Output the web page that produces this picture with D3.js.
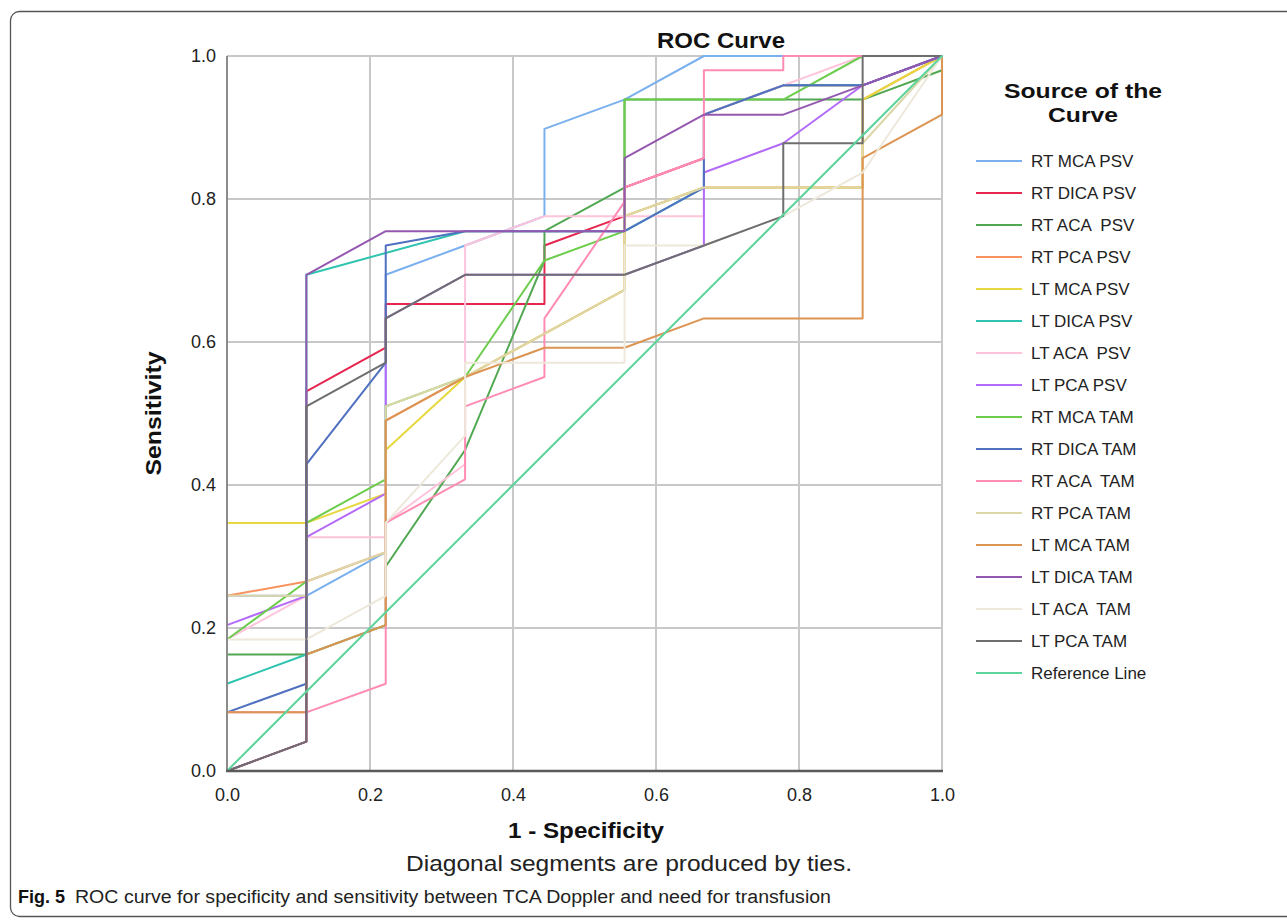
<!DOCTYPE html>
<html>
<head>
<meta charset="utf-8">
<script src="https://cdn.jsdelivr.net/npm/d3@7"></script>
<style>
  html, body { margin: 0; padding: 0; background: #ffffff; }
  svg { display: block; }
  text { font-family: "Liberation Sans", Arial, sans-serif; }
</style>
</head>
<body>
<svg id="chart" width="1287" height="923"></svg>
<script>
// ---------------- data ----------------
const seriesNames = [
  "RT MCA PSV", "RT DICA PSV", "RT ACA  PSV", "RT PCA PSV",
  "LT MCA PSV", "LT DICA PSV", "LT ACA  PSV", "LT PCA PSV",
  "RT MCA TAM", "RT DICA TAM", "RT ACA  TAM", "RT PCA TAM",
  "LT MCA TAM", "LT DICA TAM", "LT ACA  TAM", "LT PCA TAM",
  "Reference Line"
];

// each point: [1 - specificity, sensitivity]
const rtMcaPsv  = [[0,0],[0,0.245],[0.111,0.245],[0.222,0.306],[0.222,0.694],[0.333,0.735],[0.444,0.776],[0.444,0.898],[0.556,0.939],[0.667,1],[1,1]];
const rtDicaPsv = [[0,0],[0.111,0.041],[0.111,0.531],[0.222,0.592],[0.222,0.653],[0.444,0.653],[0.444,0.735],[0.556,0.776],[0.556,0.816],[0.667,0.857],[0.667,0.918],[0.778,0.959],[0.889,0.959],[1,1]];
const rtAcaPsv  = [[0,0],[0,0.163],[0.111,0.163],[0.222,0.204],[0.222,0.286],[0.333,0.449],[0.444,0.714],[0.444,0.755],[0.556,0.816],[0.556,0.939],[0.889,0.939],[1,0.980],[1,1]];
const rtPcaPsv  = [[0,0],[0,0.245],[0.111,0.265],[0.222,0.306],[0.222,0.490],[0.333,0.551],[0.556,0.673],[0.556,0.776],[0.667,0.816],[0.889,0.816],[0.889,0.939],[1,1]];
const ltMcaPsv  = [[0,0],[0,0.347],[0.111,0.347],[0.222,0.388],[0.222,0.449],[0.333,0.551],[0.556,0.673],[0.556,0.776],[0.667,0.816],[0.889,0.816],[0.889,0.939],[1,1]];
const ltDicaPsv = [[0,0],[0,0.122],[0.111,0.163],[0.111,0.694],[0.333,0.755],[0.556,0.755],[0.667,0.816],[0.667,0.918],[0.778,0.959],[0.889,0.959],[1,1]];
const ltAcaPsv  = [[0,0],[0,0.184],[0.111,0.245],[0.111,0.327],[0.222,0.327],[0.222,0.347],[0.333,0.429],[0.333,0.735],[0.444,0.776],[0.667,0.776],[0.667,0.918],[0.778,0.959],[0.889,1],[1,1]];
const ltPcaPsv  = [[0,0],[0,0.204],[0.111,0.245],[0.111,0.327],[0.222,0.388],[0.222,0.633],[0.333,0.694],[0.556,0.694],[0.667,0.735],[0.667,0.837],[0.778,0.878],[0.889,0.959],[1,1]];
const rtMcaTam  = [[0,0],[0,0.184],[0.111,0.265],[0.111,0.347],[0.222,0.408],[0.222,0.510],[0.333,0.551],[0.444,0.714],[0.556,0.755],[0.556,0.939],[0.778,0.939],[0.889,1],[1,1]];
const rtDicaTam = [[0,0],[0,0.082],[0.111,0.122],[0.111,0.429],[0.222,0.571],[0.222,0.735],[0.333,0.755],[0.556,0.755],[0.667,0.816],[0.667,0.918],[0.778,0.959],[0.889,0.959],[1,1]];
const rtAcaTam  = [[0,0],[0,0.082],[0.111,0.082],[0.222,0.122],[0.222,0.347],[0.333,0.408],[0.333,0.510],[0.444,0.551],[0.444,0.633],[0.556,0.796],[0.556,0.816],[0.667,0.857],[0.667,0.980],[0.778,0.980],[0.778,1],[1,1]];
const rtPcaTam  = [[0,0],[0,0.245],[0.111,0.245],[0.111,0.265],[0.222,0.306],[0.222,0.510],[0.333,0.551],[0.556,0.673],[0.556,0.776],[0.667,0.816],[0.889,0.816],[0.889,0.878],[1,1]];
const ltMcaTam  = [[0,0],[0,0.082],[0.111,0.082],[0.111,0.163],[0.222,0.204],[0.222,0.490],[0.333,0.551],[0.444,0.592],[0.556,0.592],[0.667,0.633],[0.889,0.633],[0.889,0.857],[1,0.918],[1,1]];
const ltDicaTam = [[0,0],[0.111,0.041],[0.111,0.694],[0.222,0.755],[0.556,0.755],[0.556,0.857],[0.667,0.918],[0.778,0.918],[0.889,0.959],[1,1]];
const ltAcaTam  = [[0,0],[0,0.184],[0.111,0.184],[0.222,0.245],[0.222,0.347],[0.333,0.469],[0.333,0.571],[0.556,0.571],[0.556,0.735],[0.667,0.735],[0.778,0.776],[0.889,0.837],[1,1]];
const ltPcaTam  = [[0,0],[0.111,0.041],[0.111,0.510],[0.222,0.571],[0.222,0.633],[0.333,0.694],[0.556,0.694],[0.667,0.735],[0.778,0.776],[0.778,0.878],[0.889,0.878],[0.889,1],[1,1]];
const referenceLine = [[0,0],[1,1]];

const seriesValues = [
  rtMcaPsv, rtDicaPsv, rtAcaPsv, rtPcaPsv,
  ltMcaPsv, ltDicaPsv, ltAcaPsv, ltPcaPsv,
  rtMcaTam, rtDicaTam, rtAcaTam, rtPcaTam,
  ltMcaTam, ltDicaTam, ltAcaTam, ltPcaTam,
  referenceLine
];

const tickValues = [0, 0.2, 0.4, 0.6, 0.8, 1.0];
const tickLabels = ["0.0", "0.2", "0.4", "0.6", "0.8", "1.0"];

// ---------------- styles ----------------
const palette = [
  "#7ab0ee", "#e6264e", "#52a852", "#f8925e",
  "#e6d83e", "#2ec4b0", "#ffc4dc", "#b46cf8",
  "#6ccc4c", "#5070c0", "#ff8cb4", "#dcd6a8",
  "#dc9452", "#9458b0", "#ede8da", "#6e6e6e",
  "#5cd49c"
];

const svg = d3.select("#chart");
const W = 1287, H = 923;

// outer rounded frame
svg.append("rect")
  .attr("x", 10.5).attr("y", 11.5)
  .attr("width", 1300).attr("height", 905)
  .attr("rx", 9).attr("ry", 9)
  .attr("fill", "none").attr("stroke", "#555").attr("stroke-width", 1.3);

const x = d3.scaleLinear().domain([0, 1]).range([227, 942]);
const y = d3.scaleLinear().domain([0, 1]).range([771, 56]);

// grid
const grid = svg.append("g");
grid.selectAll("line.v").data(tickValues.slice(1)).join("line")
  .attr("x1", d => x(d)).attr("x2", d => x(d))
  .attr("y1", y(0)).attr("y2", y(1))
  .attr("stroke", "#c8c8c8").attr("stroke-width", 2);
grid.selectAll("line.h").data(tickValues.slice(1)).join("line")
  .attr("x1", x(0)).attr("x2", x(1))
  .attr("y1", d => y(d)).attr("y2", d => y(d))
  .attr("stroke", "#c8c8c8").attr("stroke-width", 2);

// axes (labels through d3 axes)
const xAxis = d3.axisBottom(x).tickValues(tickValues)
  .tickFormat((d, i) => tickLabels[i]).tickSize(0).tickPadding(17);
const yAxis = d3.axisLeft(y).tickValues(tickValues)
  .tickFormat((d, i) => tickLabels[i]).tickSize(0).tickPadding(11);

const gx = svg.append("g").attr("transform", `translate(0,${y(0)})`).call(xAxis);
const gy = svg.append("g").attr("transform", `translate(${x(0)},0)`).call(yAxis);
gx.select(".domain").remove();
gy.select(".domain").remove();
[gx, gy].forEach(g => g.selectAll("text")
  .attr("font-family", "'Liberation Sans', Arial, sans-serif")
  .attr("font-size", 18).attr("fill", "#222"));

// curves
const line = d3.line().x(d => x(d[0])).y(d => y(d[1]));
const curves = svg.append("g").attr("fill", "none")
  .attr("stroke-linejoin", "round").attr("stroke-linecap", "round");
seriesValues.forEach((vals, i) => {
  curves.append("path")
    .datum(vals)
    .attr("d", line)
    .attr("stroke", palette[i])
    .attr("stroke-width", 2);
});

// axis lines on top
svg.append("line").attr("x1", x(0)).attr("x2", x(0)).attr("y1", y(0)).attr("y2", y(1))
  .attr("stroke", "#8c8c8c").attr("stroke-width", 2);
svg.append("line").attr("x1", x(0) - 1).attr("x2", x(1) + 1).attr("y1", y(0)).attr("y2", y(0))
  .attr("stroke", "#5a5a5a").attr("stroke-width", 2.5);

// titles
svg.append("text").attr("x", 721).attr("y", 48).attr("text-anchor", "middle")
  .attr("font-weight", "bold").attr("font-size", 22).attr("fill", "#111")
  .attr("textLength", 128).attr("lengthAdjust", "spacingAndGlyphs")
  .text("ROC Curve");

svg.append("text").attr("x", 586).attr("y", 838).attr("text-anchor", "middle")
  .attr("font-weight", "bold").attr("font-size", 22).attr("fill", "#111")
  .attr("textLength", 156).attr("lengthAdjust", "spacingAndGlyphs")
  .text("1 - Specificity");

svg.append("text")
  .attr("transform", `translate(161,${(y(0) + y(1)) / 2}) rotate(-90)`)
  .attr("text-anchor", "middle")
  .attr("font-weight", "bold").attr("font-size", 22).attr("fill", "#111")
  .attr("textLength", 124).attr("lengthAdjust", "spacingAndGlyphs")
  .text("Sensitivity");

svg.append("text").attr("x", 629).attr("y", 871).attr("text-anchor", "middle")
  .attr("font-size", 22).attr("fill", "#222")
  .attr("textLength", 446).attr("lengthAdjust", "spacingAndGlyphs")
  .text("Diagonal segments are produced by ties.");

// legend
const legend = svg.append("g");
legend.append("text").attr("x", 1083).attr("y", 98).attr("text-anchor", "middle")
  .attr("font-weight", "bold").attr("font-size", 21).attr("fill", "#111")
  .attr("textLength", 158).attr("lengthAdjust", "spacingAndGlyphs")
  .text("Source of the");
legend.append("text").attr("x", 1083).attr("y", 122).attr("text-anchor", "middle")
  .attr("font-weight", "bold").attr("font-size", 21).attr("fill", "#111")
  .attr("textLength", 70).attr("lengthAdjust", "spacingAndGlyphs")
  .text("Curve");

const rowY = d3.scalePoint().domain(seriesNames).range([161, 673]);
const rows = legend.selectAll("g.row").data(seriesNames).join("g")
  .attr("transform", d => `translate(0,${rowY(d)})`);
rows.append("line").attr("x1", 976).attr("x2", 1022).attr("y1", 0).attr("y2", 0)
  .attr("stroke", (d, i) => palette[i]).attr("stroke-width", 2);
rows.append("text").attr("x", 1031).attr("y", 6)
  .attr("font-size", 17).attr("fill", "#222")
  .style("white-space", "pre")
  .text(d => d);

// caption
svg.append("text").attr("x", 18).attr("y", 903)
  .attr("font-family", "'Liberation Sans Narrow', 'Liberation Sans', Arial, sans-serif")
  .attr("font-weight", "bold").attr("font-size", 18).attr("fill", "#111")
  .attr("textLength", 47).attr("lengthAdjust", "spacingAndGlyphs")
  .text("Fig. 5");
svg.append("text").attr("x", 75).attr("y", 903)
  .attr("font-family", "'Liberation Sans Narrow', 'Liberation Sans', Arial, sans-serif")
  .attr("font-size", 18).attr("fill", "#222")
  .attr("textLength", 756).attr("lengthAdjust", "spacingAndGlyphs")
  .text("ROC curve for specificity and sensitivity between TCA Doppler and need for transfusion");
</script>
</body>
</html>
